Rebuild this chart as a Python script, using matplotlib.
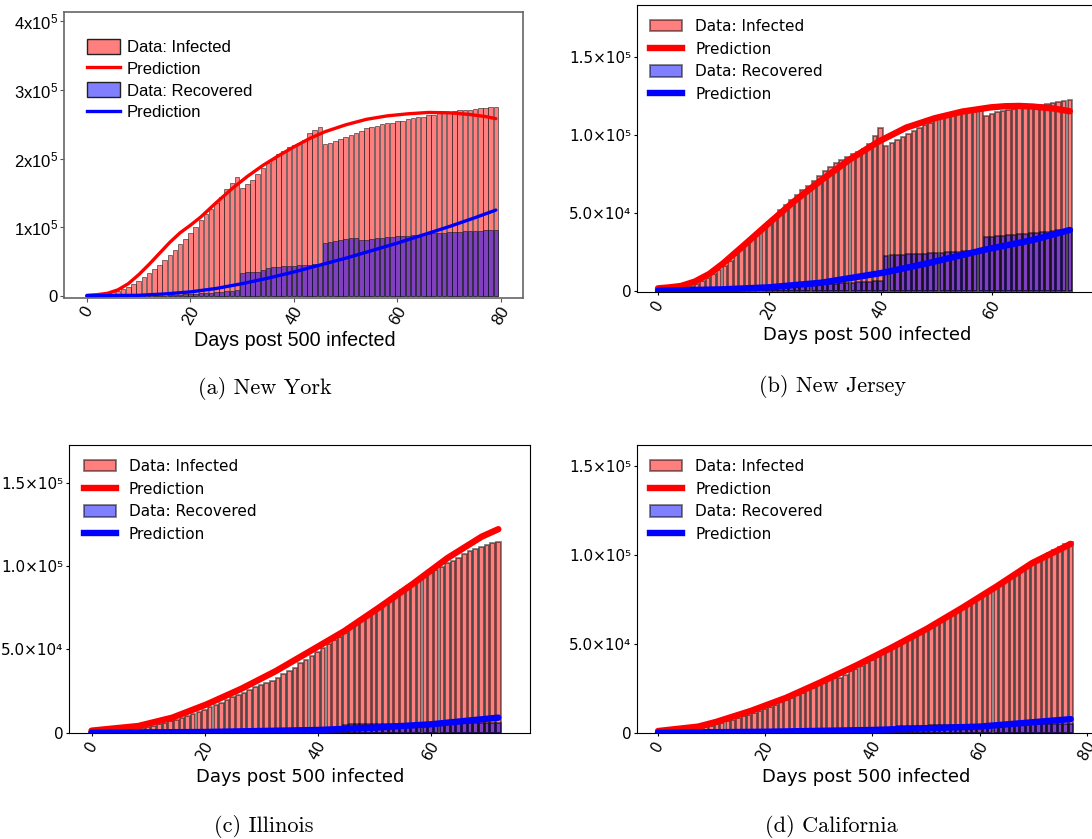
import numpy as np
import matplotlib
matplotlib.use('Agg')
import matplotlib.pyplot as plt
from matplotlib.font_manager import FontProperties
from matplotlib.patches import Patch
from matplotlib.lines import Line2D

plt.rcParams['mathtext.rm'] = 'Liberation Sans'
plt.rcParams['mathtext.it'] = 'Liberation Sans:italic'
plt.rcParams['mathtext.bf'] = 'Liberation Sans:bold'

# ---------------- data ----------------
xlabel_text = "Days post 500 infected"
legend_labels = ["Data: Infected", "Prediction", "Data: Recovered", "Prediction"]
captions = ["(a) New York", "(b) New Jersey", "(c) Illinois", "(d) California"]
ytick_labels_a = ['0', r'$\mathregular{1x10^{5}}$', r'$\mathregular{2x10^{5}}$',
                  r'$\mathregular{3x10^{5}}$', r'$\mathregular{4x10^{5}}$']
ytick_labels_mpl = ['0', '5.0×10⁴', '1.0×10⁵', '1.5×10⁵']

# (a) New York  (values in people)
ny_infected = [1000, 1500, 2200, 3000, 4000, 5500, 7500, 10000, 13000, 17000,
               22000, 28000, 33000, 39000, 45000, 52000, 60000, 67000, 76000, 83000,
               91000, 101000, 110000, 120000, 127000, 136000, 144000, 155000, 165000, 173000,
               157000, 163000, 169000, 178000, 186000, 193000, 200000, 206000, 211000, 217000,
               220000, 222000, 227000, 237000, 242000, 246000, 221000, 223000, 226000, 229000,
               232000, 234000, 237000, 240000, 244000, 246000, 248000, 250000, 251000, 252000,
               254000, 255000, 257000, 259000, 260000, 261000, 263000, 264000, 266000, 267000,
               268000, 269000, 270000, 270500, 271000, 272000, 273000, 274000, 275000, 275500]
ny_recovered = [0, 0, 0, 0, 0, 0, 0, 0, 0, 0,
                0, 0, 0, 0, 0, 500, 1000, 1500, 2000, 2500,
                3000, 3500, 4000, 4500, 5000, 5500, 6000, 7000, 8000, 9000,
                34000, 34500, 35000, 35500, 38000, 41000, 42000, 42500, 43000, 43500,
                44000, 44500, 45000, 45500, 46000, 46500, 77000, 78500, 80000, 82000,
                83500, 84000, 84000, 81000, 82000, 83000, 84000, 85000, 86000, 86500,
                87000, 87500, 88000, 88500, 89000, 89500, 90000, 91000, 91500, 92000,
                92500, 93000, 93500, 94000, 94500, 95000, 95000, 95500, 96000, 96000]
ny_pred_days = [0, 2, 4, 6, 8, 10, 12, 14, 16, 18, 20, 22, 25, 28, 31, 34, 37, 40, 43, 46,
                50, 54, 58, 62, 66, 70, 74, 77, 79]
ny_pred_inf = [1000, 2000, 4000, 9000, 18000, 31000, 46000, 62000, 78000, 92000,
               103000, 115000, 136000, 156000, 174000, 190000, 204000, 217000, 229000, 239000,
               249000, 257000, 262000, 265000, 267000, 266500, 264000, 261000, 258000]
ny_pred_rec_days = [0, 10, 15, 20, 25, 30, 35, 40, 45, 50, 55, 60, 65, 70, 75, 79]
ny_pred_rec = [500, 1000, 3000, 6000, 11000, 18000, 26000, 35000, 45000, 55000,
               66000, 77000, 89000, 101000, 114000, 125000]

# (b) New Jersey
nj_infected = [400, 480, 650, 960, 1480, 2220, 3140, 4470, 6260, 8450,
               10960, 13580, 16310, 19390, 22820, 26080, 29490, 33350, 36980, 40630,
               44280, 47740, 51630, 55250, 58580, 61600, 64520, 67560, 70570, 73620,
               76610, 79340, 81780, 84170, 86170, 87590, 89190, 91180, 94000, 99500,
               104700, 92960, 94670, 96590, 98520, 100650, 102580, 104500, 106210, 107920,
               109410, 110910, 112190, 113260, 114120, 114970, 115830, 116470, 117110, 112410,
               113690, 114760, 115610, 116250, 116890, 117320, 117750, 118180, 118820, 119460,
               120100, 120740, 121380, 122020, 122660]
nj_recovered = [0, 0, 0, 0, 0, 0, 0, 0, 0, 0,
                0, 0, 0, 200, 400, 700, 1000, 1300, 1600, 1900,
                2200, 2500, 2800, 3000, 3200, 3400, 3600, 3800, 4000, 4200,
                4400, 4600, 4800, 5000, 5200, 5400, 5600, 5800, 6000, 6200,
                6400, 22600, 22800, 23000, 23200, 23400, 23600, 23800, 24000, 24200,
                24400, 24600, 24800, 25000, 25200, 25400, 25500, 25700, 25900, 34400,
                34700, 35000, 35400, 35700, 36000, 36400, 36700, 37100, 37400, 37800,
                38100, 38500, 38800, 39200, 39500]
nj_pred_days = [0, 2, 4.1, 6.6, 9.2, 11.7, 15.5, 19.9, 24.4, 29.4, 34.5, 39.6, 44.6, 49.7,
                54.7, 59.8, 62.3, 64.9, 67.4, 71.2, 74]
nj_pred_inf = [1700, 2300, 3200, 6000, 10900, 17700, 29500, 43400, 57300, 71200, 84400,
               95700, 104700, 110700, 115000, 117700, 118400, 118600, 118200, 116900, 115200]
nj_pred_rec_days = [0, 11.7, 19.9, 29.4, 40.5, 48.4, 58.5, 67.4, 74]
nj_pred_rec = [200, 1070, 2350, 5340, 11750, 17740, 26280, 32700, 39100]

# (c) Illinois
il_infected = [500, 600, 750, 900, 1100, 1300, 1600, 1900, 2300, 2800,
               3400, 4100, 4900, 5800, 6700, 7800, 8900, 10000, 11200, 12500,
               13800, 15200, 16600, 18000, 19600, 21100, 22500, 24000, 25300, 27200,
               28600, 29500, 31000, 33000, 35200, 37000, 39000, 41500, 43700, 46000,
               48500, 50600, 53000, 55600, 57600, 60000, 62500, 65000, 67600, 70000,
               72700, 75300, 77700, 80600, 83000, 85500, 88000, 89600, 91800, 93400,
               95500, 97400, 99500, 101500, 103200, 105000, 107000, 108700, 110300, 111500,
               112600, 113500, 114600]
il_recovered = [0] * 30 + [300, 400, 500, 600, 700, 800, 900, 1000, 1200, 1400,
                           1600, 1800, 2000, 2300, 2600, 4800, 4900, 5000, 5000, 5100,
                           5100, 5200, 5200, 5300, 5300, 5300, 5400, 5400, 5400, 5500,
                           5500, 5500, 5600, 5600, 5600, 5700, 5700, 5700, 5800, 5800,
                           5800, 5800, 5800]
il_pred_days = [0, 8.3, 14.3, 20.4, 26.5, 32.6, 38.7, 44.7, 50.8, 56.9, 63, 69.1, 72]
il_pred_inf = [1200, 4000, 9000, 17000, 26300, 36900, 48900, 60800, 74800, 89300,
               104700, 117600, 122000]
il_pred_rec_days = [0, 20, 40, 50, 60, 72]
il_pred_rec = [0, 400, 1600, 3000, 5000, 9000]

# (d) California
ca_infected = [600, 800, 1000, 1200, 1500, 1800, 2100, 2500, 2900, 3400,
               4000, 4700, 5500, 6300, 7200, 8100, 9100, 10100, 11200, 12300,
               13400, 14600, 15800, 17000, 18300, 19600, 21000, 22400, 23800, 25300,
               26700, 28200, 29600, 30500, 31000, 32500, 34500, 36000, 37700, 39300,
               41000, 42700, 44300, 46000, 47600, 49300, 51000, 52600, 54300, 56000,
               57700, 59400, 61200, 63000, 64800, 66600, 68400, 70200, 72000, 73900,
               75700, 77600, 79500, 81400, 83300, 85200, 87100, 89100, 91000, 93000,
               95000, 97000, 99000, 101000, 102800, 104300, 106000, 107500]
ca_recovered = [0] * 25 + [200, 300, 400, 500, 600, 700, 800, 900, 1000, 1100,
                           1200, 1300, 1400, 1500, 1600, 1700, 1800, 1900, 2000, 2100,
                           3800, 3850, 3900, 3950, 4000, 4000, 4050, 4100, 4100, 4150,
                           4200, 4200, 4250, 4300, 4300, 4350, 4400, 4400, 4450, 4500,
                           4500, 4550, 4600, 4600, 4650, 4700, 4700, 4700, 4700, 4700,
                           4700, 4700, 4700]
ca_pred_days = [0, 7.5, 10.8, 17.3, 23.9, 30.4, 37, 43.5, 50.1, 56.7, 63.2, 69.8, 77]
ca_pred_inf = [900, 3400, 6000, 12200, 19600, 28400, 37800, 47700, 58300, 70100,
               82300, 95400, 106200]
ca_pred_rec_days = [0, 20, 40, 60, 77]
ca_pred_rec = [0, 500, 1500, 3400, 7600]

# ---------------- figure ----------------
W, H = 1092, 839
fig = plt.figure(figsize=(W / 100, H / 100), dpi=100)


def px_axes(l, r, t, b):
    return fig.add_axes([l / W, 1 - b / H, (r - l) / W, (b - t) / H])


def fx(x):
    return x / W


def fy(y):
    return 1 - y / H


# ---- (a) New York: MATLAB-like style ----
arial = 'Liberation Sans'
axA = px_axes(64, 523, 12, 298)
d = np.arange(len(ny_infected))
axA.bar(d, ny_infected, width=0.88, facecolor=(1, 0, 0, 0.5), edgecolor=(0.15, 0.15, 0.15, 0.7),
        linewidth=0.6, zorder=2)
axA.bar(d, ny_recovered, width=0.88, facecolor=(0, 0, 1, 0.5), edgecolor=(0.1, 0.1, 0.1, 0.7),
        linewidth=0.6, zorder=3)
axA.plot(ny_pred_days, ny_pred_inf, color='red', lw=2.4, zorder=4, solid_capstyle='round',
         solid_joinstyle='round')
axA.plot(ny_pred_rec_days, ny_pred_rec, color='blue', lw=2.4, zorder=5, solid_capstyle='round',
         solid_joinstyle='round')
axA.set_xlim(-4.44, 84.25)
axA.set_ylim(-2900, 413100)
fpA = FontProperties(family=arial, size=12, math_fontfamily='custom')
axA.set_yticks([0, 100000, 200000, 300000, 400000])
axA.set_yticklabels(ytick_labels_a, fontproperties=fpA)
axA.set_xticks([0, 20, 40, 60, 80])
axA.set_xticklabels(['0', '20', '40', '60', '80'], rotation=60, fontproperties=fpA)
axA.tick_params(length=3, width=0.8, pad=1.5, color='#555555')
for s in axA.spines.values():
    s.set_color('#666666')
    s.set_linewidth(1.2)
hA = [Patch(facecolor=(1, 0, 0, 0.5), edgecolor='#222222', lw=1.0),
      Line2D([], [], color='red', lw=2.4),
      Patch(facecolor=(0, 0, 1, 0.5), edgecolor='#222222', lw=1.0),
      Line2D([], [], color='blue', lw=2.4)]
axA.legend(hA, legend_labels, loc='upper left', bbox_to_anchor=(23 / 459, 1 - 27 / 286),
           borderaxespad=0, borderpad=0, frameon=False, prop=FontProperties(family=arial, size=12),
           handlelength=2.0, handleheight=1.0, handletextpad=0.4, labelspacing=0.33)
fig.text(fx(294.5), fy(341), xlabel_text, ha='center', va='center', fontsize=14.2, family=arial)

# ---- (b)-(d): matplotlib style ----
mpl_panels = [
    dict(box=(637, 1094, 5, 292), zero=658, ppd=5.565, inf=nj_infected, rec=nj_recovered,
         pdi=nj_pred_days, pi=nj_pred_inf, pdr=nj_pred_rec_days, pr=nj_pred_rec,
         ylim=(-641, 183300), xl=(867, 335), xt=[0, 20, 40, 60], leg=13),
    dict(box=(69, 530, 445, 733), zero=91.5, ppd=5.65, inf=il_infected, rec=il_recovered,
         pdi=il_pred_days, pi=il_pred_inf, pdr=il_pred_rec_days, pr=il_pred_rec,
         ylim=(-200, 172500), xl=(300, 776.5), xt=[0, 20, 40, 60], leg=14.7),
    dict(box=(637, 1096, 445, 733), zero=658, ppd=5.36, inf=ca_infected, rec=ca_recovered,
         pdi=ca_pred_days, pi=ca_pred_inf, pdr=ca_pred_rec_days, pr=ca_pred_rec,
         ylim=(-200, 161800), xl=(866.6, 776.5), xt=[0, 20, 40, 60, 80], leg=13),
]
for p in mpl_panels:
    l, r, t, b = p['box']
    ax = px_axes(l, r, t, b)
    dd = np.arange(len(p['inf']))
    ax.bar(dd, p['inf'], width=0.8, color='red', alpha=0.5, edgecolor='black', linewidth=1.3, zorder=2)
    ax.bar(dd, p['rec'], width=0.8, color='blue', alpha=0.5, edgecolor='black', linewidth=1.3, zorder=3)
    ax.plot(p['pdi'], p['pi'], color='red', lw=4.6, zorder=4, solid_capstyle='round',
            solid_joinstyle='round')
    ax.plot(p['pdr'], p['pr'], color='blue', lw=4.6, zorder=5, solid_capstyle='round',
            solid_joinstyle='round')
    ax.set_xlim((l - p['zero']) / p['ppd'], (r - p['zero']) / p['ppd'])
    ax.set_ylim(*p['ylim'])
    ax.set_yticks([0, 50000, 100000, 150000])
    ax.set_yticklabels(ytick_labels_mpl, fontsize=11)
    ax.set_xticks(p['xt'])
    ax.set_xticklabels([str(v) for v in p['xt']], rotation=60, fontsize=11)
    ax.tick_params(length=2.5, width=0.8, pad=1.5)
    h = [Patch(facecolor='red', alpha=0.5, edgecolor='black', lw=1.3),
         Line2D([], [], color='red', lw=4.6),
         Patch(facecolor='blue', alpha=0.5, edgecolor='black', lw=1.3),
         Line2D([], [], color='blue', lw=4.6)]
    axw, axh = r - l, b - t
    ax.legend(h, legend_labels, loc='upper left', bbox_to_anchor=(p['leg'] / axw, 1 - 14 / axh),
              borderaxespad=0, borderpad=0, frameon=False, fontsize=11,
              handlelength=2.1, handleheight=0.75, handletextpad=0.85, labelspacing=0.5)
    fig.text(fx(p['xl'][0]), fy(p['xl'][1]), xlabel_text, ha='center', va='center', fontsize=13)

# captions
cap_pos = [(265, 388), (832.5, 387), (263.6, 827), (831.5, 827)]
for txt, (x, y) in zip(captions, cap_pos):
    fig.text(fx(x), fy(y), txt, ha='center', va='center', family='cmr10', fontsize=16)

fig.savefig('out.png', dpi=100)
